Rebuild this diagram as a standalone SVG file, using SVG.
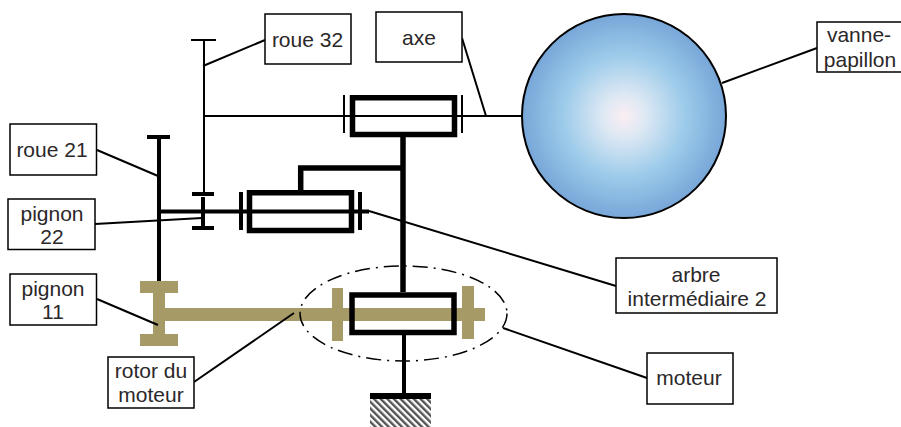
<svg xmlns="http://www.w3.org/2000/svg" width="901" height="427" viewBox="0 0 901 427">
<style>
.box{fill:#fff;stroke:#000;stroke-width:1.5}
.t{font:21px "Liberation Sans",Arial,sans-serif;fill:#2b2829;text-anchor:middle}
.l{stroke:#000;fill:none;stroke-width:2}
.b{stroke:#000;fill:none;stroke-width:4}
.m{stroke:#000;fill:none;stroke-width:5.5}
.g{fill:#a69b67}
</style>
<defs>
<radialGradient id="rg"><stop offset="0" stop-color="#fbeef2"/><stop offset=".2" stop-color="#dfe9f4"/><stop offset=".6" stop-color="#9ccbea"/><stop offset="1" stop-color="#78a6d8"/></radialGradient>
<pattern id="hatch" width="4.7" height="6" patternUnits="userSpaceOnUse" patternTransform="rotate(-45)"><rect width="4.7" height="6" fill="#fff"/><rect width="2.4" height="6" fill="#555"/></pattern>
</defs>
<rect width="901" height="427" fill="#fff"/>
<g id="valve"><circle cx="624" cy="116" r="102" fill="url(#rg)" stroke="#000" stroke-width="2"/></g>
<g id="gears">
<path class="l" d="M191 40H216M204 40V193M204 116H522"/>
<path class="b" d="M147 137H170M159 137V282"/>
<path class="b" d="M192 194H214M192 228H214M203 197V228M159 211.500H369M241 192V230M360 192V230"/>
<path class="m" d="M249.500 192.700H351.500V230.500H249.500Z"/>
<path class="m" d="M300.700 191V168H403"/>
</g>
<g id="upper-bearing">
<path class="l" d="M344 95V133M462 95V133"/>
<path class="m" d="M352.500 97.700H454.500V134.500H352.500Z"/>
<path class="m" d="M403 137V292"/>
</g>
<g id="rotor">
<rect class="g" x="140" y="281" width="38" height="12"/>
<rect class="g" x="140" y="334" width="38" height="12"/>
<rect class="g" x="153" y="281" width="12" height="65"/>
<rect class="g" x="165" y="308" width="320" height="13"/>
<rect class="g" x="332" y="288" width="11" height="53"/>
<rect class="g" x="462" y="286" width="12" height="53"/>
</g>
<g id="motor">
<path class="m" d="M352 295H454V332.500H352Z"/>
<path class="b" d="M404 335V394" stroke-width="5"/>
<rect x="370" y="393" width="61" height="6"/>
<rect x="370" y="399" width="61" height="28" fill="url(#hatch)"/>
<ellipse cx="403.500" cy="313.500" rx="103.500" ry="47.500" fill="none" stroke="#000" stroke-width="1.5" stroke-dasharray="15 6 2 6"/>
</g>
<g id="connectors">
<path class="l" d="M203 66L265 40M97 150L158 176M95 224L202 218M369 211L616 286M294 313L194 382M503 328L647 378M462 38L486 116M722 83L817 48M97 299L158 325"/>
</g>
<g id="n1"><rect class="box" x="265" y="14" width="86" height="50"/><text class="t" x="307.500" y="47">roue 32</text></g>
<g id="n2"><rect class="box" x="376" y="12" width="86" height="50"/><text class="t" x="419" y="45">axe</text></g>
<g id="n3"><rect class="box" x="817" y="22" width="85" height="50"/><text class="t" x="859" y="42">vanne-</text><text class="t" x="860" y="67">papillon</text></g>
<g id="n4"><rect class="box" x="10" y="124" width="86.500" height="51"/><text class="t" x="52" y="157">roue 21</text></g>
<g id="n5"><rect class="box" x="8" y="199" width="87" height="50.500"/><text class="t" x="52" y="221">pignon</text><text class="t" x="52" y="244">22</text></g>
<g id="n6"><rect class="box" x="10" y="274" width="86.500" height="51"/><text class="t" x="53" y="296">pignon</text><text class="t" x="53" y="319">11</text></g>
<g id="n7"><rect class="box" x="108" y="357" width="86" height="51"/><text class="t" x="151" y="378">rotor du</text><text class="t" x="151" y="402">moteur</text></g>
<g id="n8"><rect class="box" x="616" y="258" width="161" height="55"/><text class="t" x="696" y="282">arbre</text><text class="t" x="697" y="306">intermédiaire 2</text></g>
<g id="n9"><rect class="box" x="647" y="353" width="86" height="51"/><text class="t" x="689" y="385">moteur</text></g>
</svg>
